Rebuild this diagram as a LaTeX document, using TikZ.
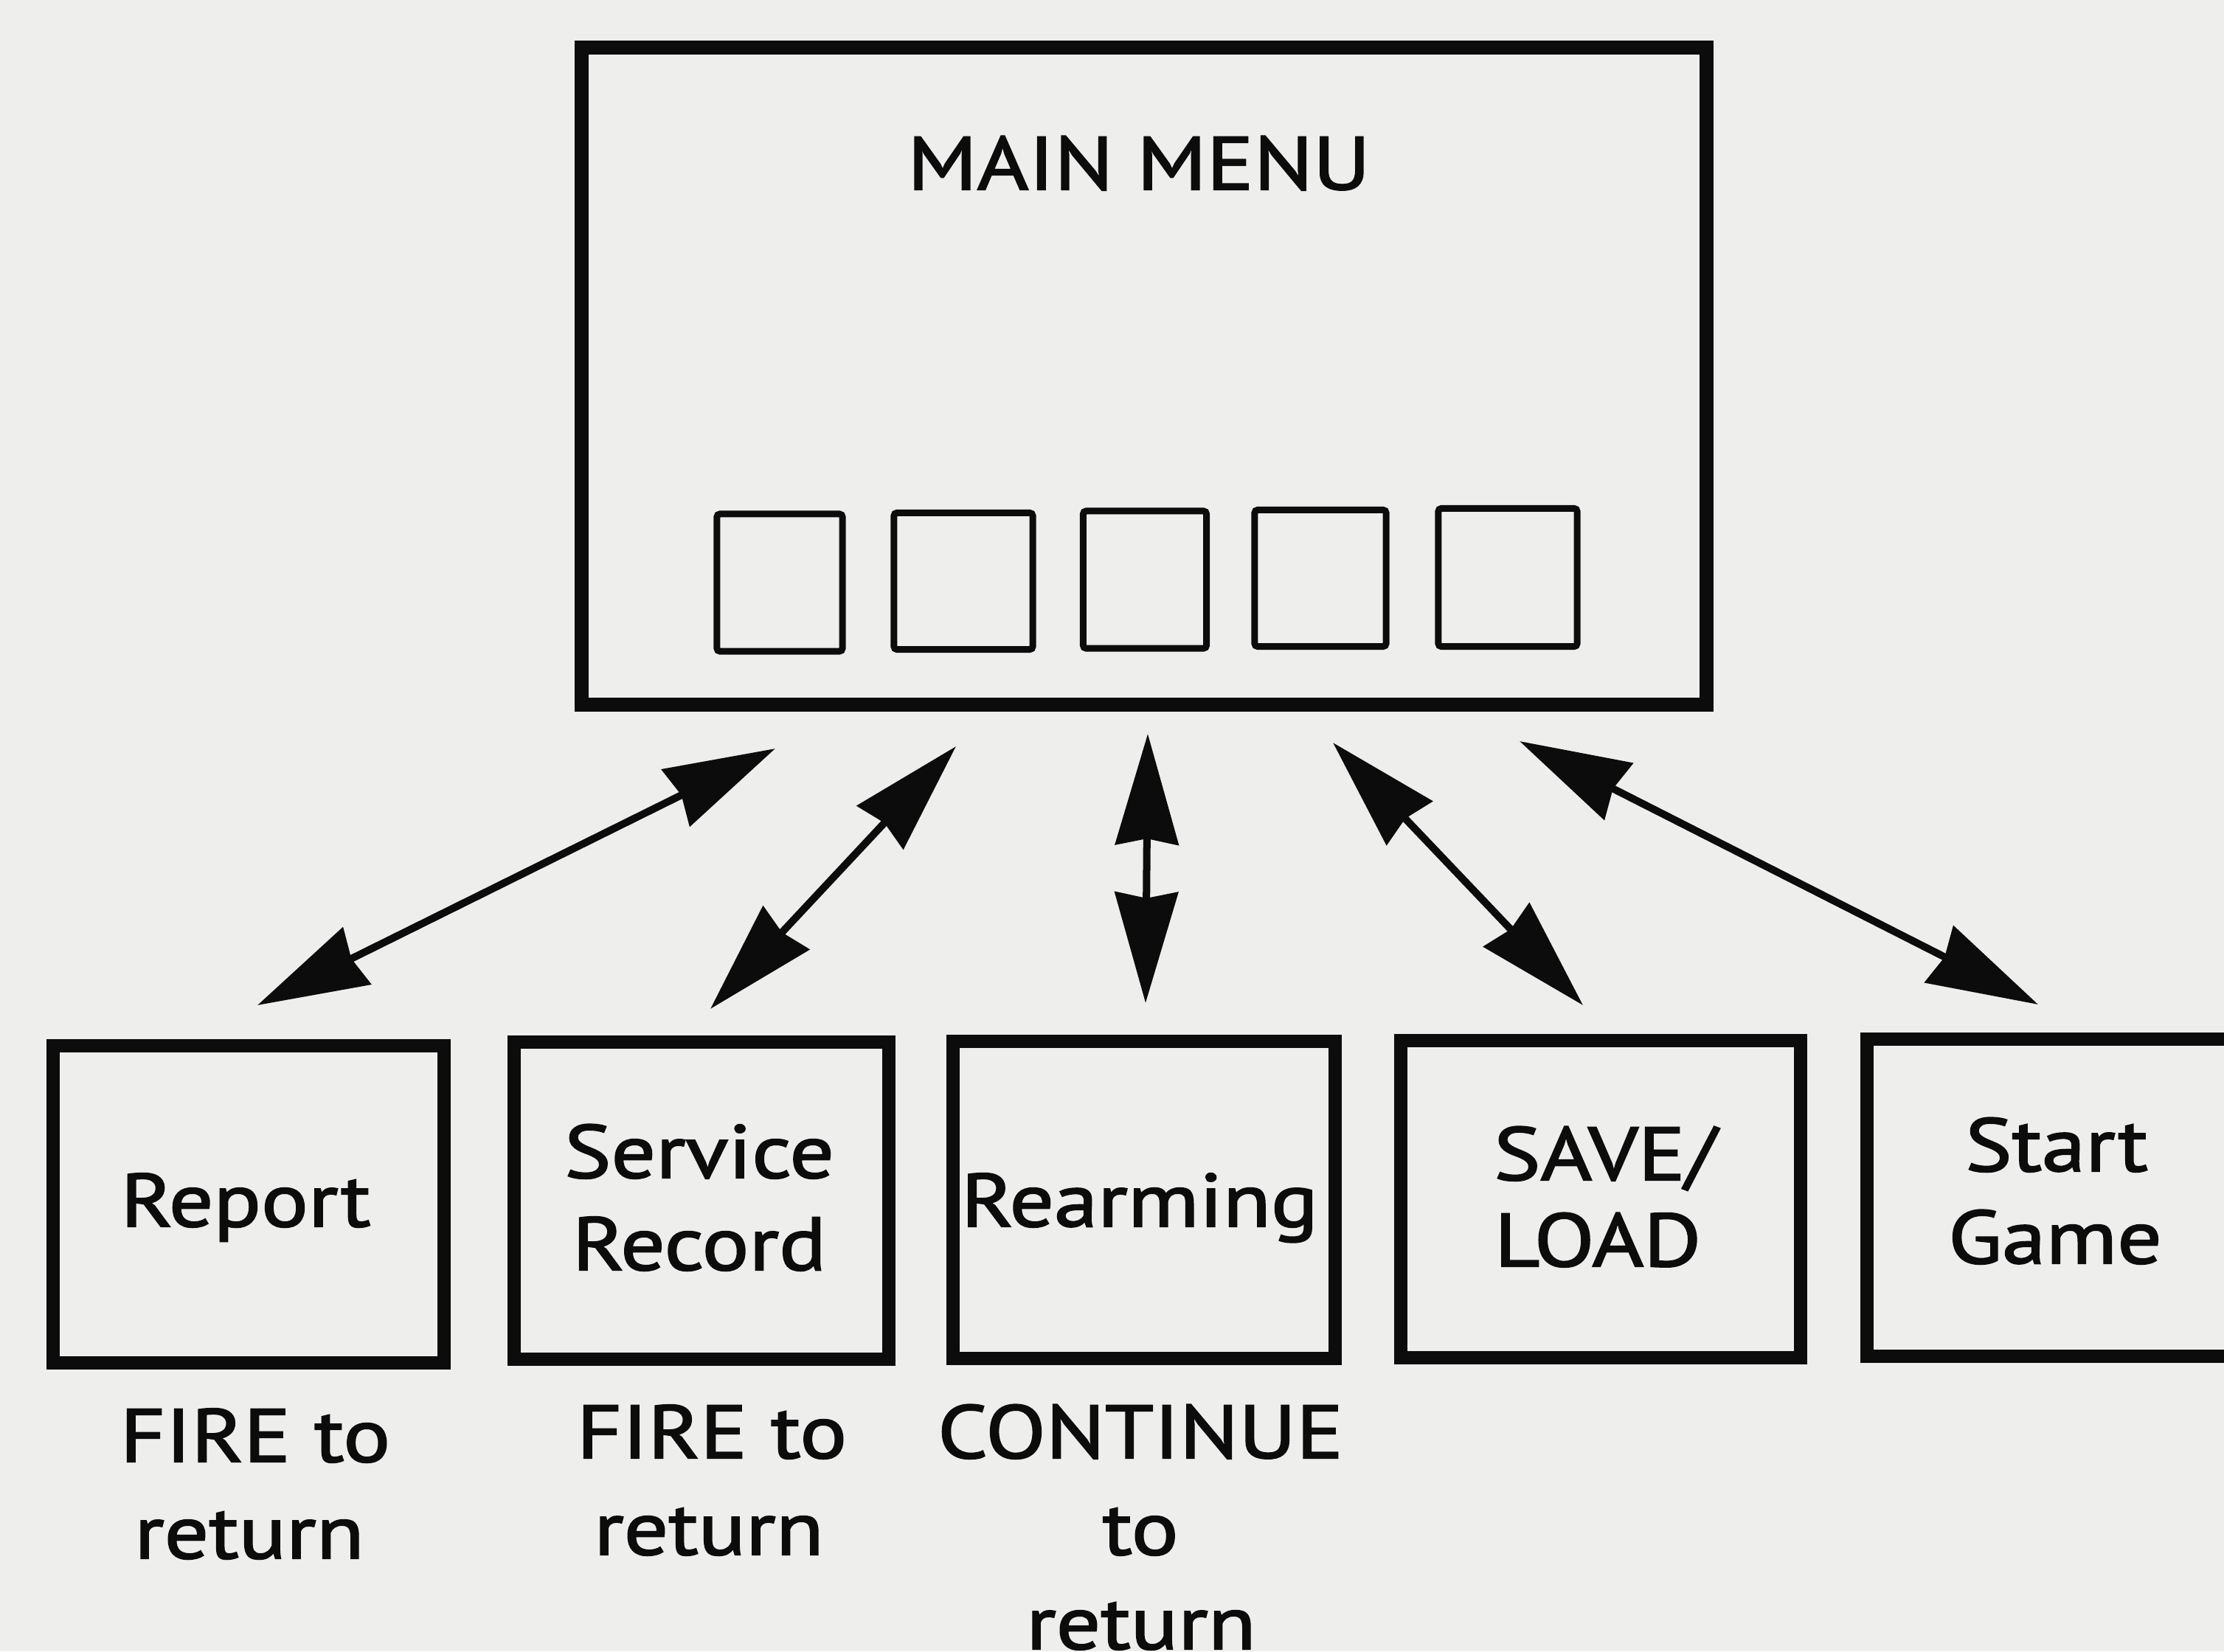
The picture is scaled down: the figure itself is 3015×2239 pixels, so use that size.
\documentclass[tikz,border=0pt]{standalone}
\usepackage{fontspec}
\setmainfont{PT Sans}[FakeStretch=1.17,FakeBold=2]
\usetikzlibrary{arrows.meta}
\definecolor{paper}{RGB}{238,238,237}
\definecolor{ink}{RGB}{12,12,12}
\begin{document}
\begin{tikzpicture}[x=0.01cm,y=-0.01cm,
  mainbox/.style={draw=ink, line width=0.19cm, inner sep=0, minimum width=15.24cm, minimum height=8.9cm},
  keybox/.style={draw=ink, line width=0.09cm, inner sep=0, rounded corners=0.04cm},
  optbox/.style={draw=ink, line width=0.18cm, inner sep=0, minimum height=4.29cm},
  lbl/.style={inner sep=0, anchor=base, text=ink, font=\fontsize{29}{35}\selectfont},
  tip/.style={Stealth[length=1.5cm,width=0.85cm,inset=0.08cm]},
  dbl/.style={draw=ink, line width=0.1cm, {Stealth[length=1.5cm,width=0.85cm,inset=0.08cm]}-{Stealth[length=1.5cm,width=0.85cm,inset=0.08cm]}}
]
\useasboundingbox[fill=paper] (0,0) rectangle (3015,2239);
\clip (0,0) rectangle (3015,2239);

% main menu
\node[mainbox] (main) at (1551,510) {};
\node[lbl] (tmain) at (1544,257) {MAIN MENU};
\node[keybox, minimum width=1.70cm, minimum height=1.86cm] (k1) at (1057,790) {};
\node[keybox, minimum width=1.88cm, minimum height=1.85cm] (k2) at (1306,788) {};
\node[keybox, minimum width=1.67cm, minimum height=1.86cm] (k3) at (1552,786) {};
\node[keybox, minimum width=1.78cm, minimum height=1.85cm] (k4) at (1790,784) {};
\node[keybox, minimum width=1.88cm, minimum height=1.87cm] (k5) at (2044,783) {};

% option boxes
\node[optbox, minimum width=5.30cm] (report) at (337,1633) {};
\node[optbox, minimum width=5.08cm] (service) at (951,1628) {};
\node[optbox, minimum width=5.18cm] (rearm) at (1551,1627) {};
\node[optbox, minimum width=5.41cm] (save) at (2170,1626) {};
\node[optbox, minimum width=5.14cm] (start) at (2788,1624) {};

\node[lbl] (treport) at (333,1663) {Report};
\node[lbl] (tserv1) at (948,1597) {Service};
\node[lbl] (tserv2) at (948,1722) {Record};
\node[lbl] (trearm) at (1545,1663) {Rearming};
\node[lbl] (tsave1) at (2176,1600) {SAVE/};
\node[lbl] (tsave2) at (2166,1717) {LOAD};
\node[lbl] (tstart1) at (2788,1588) {Start};
\node[lbl] (tstart2) at (2786,1713) {Game};

% notes below
\node[lbl] (n1a) at (346,1982) {FIRE to};
\node[lbl] (n1b) at (338,2113) {return};
\node[lbl] (n2a) at (965,1977) {FIRE to};
\node[lbl] (n2b) at (961,2108) {return};
\node[lbl] (n3a) at (1546,1977) {CONTINUE};
\node[lbl] (n3b) at (1546,2108) {to};
\node[lbl] (n3c) at (1547,2236) {return};

% arrows
\coordinate (a1m) at (1051,1015); \coordinate (a1o) at (349,1363);
\coordinate (a2m) at (1296,1012); \coordinate (a2o) at (963,1368);
\coordinate (a3m) at (1556,995);  \coordinate (a3o) at (1553,1360);
\coordinate (a4m) at (1807,1007); \coordinate (a4o) at (2146,1363);
\coordinate (a5m) at (2060,1005); \coordinate (a5o) at (2763,1362);
\draw[dbl] (a1m) -- (a1o);
\draw[dbl] (a2m) -- (a2o);
\draw[dbl] (a3m) -- (a3o);
\draw[dbl] (a4m) -- (a4o);
\draw[dbl] (a5m) -- (a5o);
\end{tikzpicture}
\end{document}
